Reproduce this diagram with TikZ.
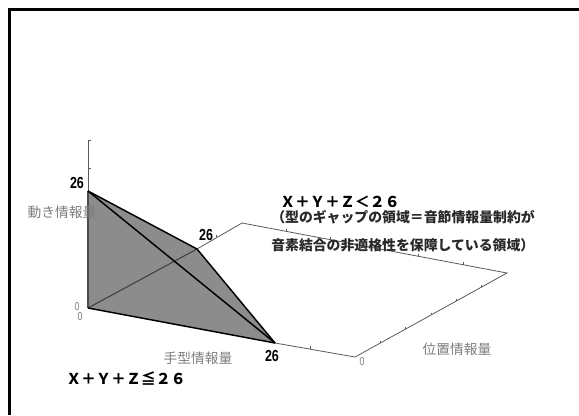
\documentclass[tikz,border=0pt]{standalone}
\usepackage{fontspec}
\usetikzlibrary{calc}
\newfontfamily\jp{Noto Sans CJK JP}
\newfontfamily\narrowfont[FakeStretch=0.78]{Liberation Sans}
\definecolor{solidgray}{RGB}{140,140,140}
\definecolor{axisgray}{RGB}{90,90,90}
\definecolor{labelgray}{RGB}{125,125,125}
\tikzset{
  axisline/.style={draw=axisgray, line width=0.6pt},
  edgeline/.style={draw=black, line width=1.1pt, line join=round},
  tickmark/.style={draw=axisgray, line width=0.5pt},
  numlabel/.style={font=\narrowfont\bfseries\fontsize{12}{14}\selectfont, inner sep=0pt},
  zerolabel/.style={font=\narrowfont\fontsize{8.5}{10}\selectfont, text=labelgray, inner sep=0pt},
  axislabel/.style={font=\jp\fontsize{10.3}{12}\selectfont, text=labelgray, inner sep=0pt},
  eqlabel/.style={font=\jp\bfseries\fontsize{11.2}{13}\selectfont, inner sep=0pt, anchor=west},
  notelabel/.style={font=\jp\bfseries\fontsize{10.4}{12}\selectfont, text={rgb,255:red,40;green,40;blue,40}, inner sep=0pt, anchor=west}
}
\begin{document}
\begin{tikzpicture}[x=0.75pt,y=-0.75pt]
\useasboundingbox (0,0) rectangle (579,415);
% frame (only top and left sides visible)
\draw[line width=1.6pt] (9.5,415) -- (9.5,9.5) -- (579,9.5);

% key points
\coordinate (O) at (88,308);
\coordinate (Ztop) at (88,140);
\coordinate (Z26) at (88,191);
\coordinate (Y26) at (197,249);
\coordinate (Yend) at (242,223);
\coordinate (X26) at (275,343);
\coordinate (Xend) at (355,357);
\coordinate (Corner) at (507,273);

% floor and axes
\draw[axisline] (Ztop) -- (O);
\draw[axisline] (Y26) -- (Yend) -- (Corner) -- (Xend) -- (X26);

% ticks
\foreach \t in {0,1,...,6} {
  \draw[tickmark] ($(O)!\t/6!(Ztop)$) -- ++(2.5,0);
}
\foreach \t in {1,...,5} {
  \draw[tickmark] ($(O)!\t/6!(Xend)$) -- ++(0,-2.5);
  \draw[tickmark] ($(O)!\t/6!(Yend)$) -- ++(0,-2.5);
  \draw[tickmark] ($(Xend)!\t/6!(Corner)$) -- ++(0,-2.5);
  \draw[tickmark] ($(Yend)!\t/6!(Corner)$) -- ++(0,-2.5);
}

% solid region
\fill[solidgray] (O) -- (Z26) -- (Y26) -- (X26) -- cycle;
\draw[draw=black!75, line width=0.8pt] (O) -- (Y26);
\draw[draw=black!70, line width=0.8pt] (O) -- (Z26);
\draw[edgeline] (Z26) -- (Y26) -- (X26);
\draw[edgeline] (Z26) -- (X26);
\draw[edgeline] (O) -- (X26);

% labels
\node[numlabel] (n26z) at (77,183) {26};
\node[numlabel] (n26y) at (206,235) {26};
\node[numlabel] (n26x) at (272,356) {26};
\node[zerolabel] (n0a) at (77,307) {0};
\node[zerolabel] (n0b) at (80,317) {0};
\node[zerolabel] (n0c) at (362,362) {0};
\node[axislabel] (lz) at (62,212) {動き情報量};
\node[axislabel] (lx) at (198,358) {手型情報量};
\node[axislabel] (ly) at (457,349) {位置情報量};
\node[eqlabel] (eqa) at (66,379) {Ｘ＋Ｙ＋Ｚ≦２６};
\node[eqlabel] (eqb) at (280,202) {Ｘ＋Ｙ＋Ｚ＜２６};
\node[notelabel] (nta) at (271,217) {（型のギャップの領域＝音節情報量制約が};
\node[notelabel] (ntb) at (271,245) {音素結合の非適格性を保障している領域）};
\end{tikzpicture}
\end{document}
